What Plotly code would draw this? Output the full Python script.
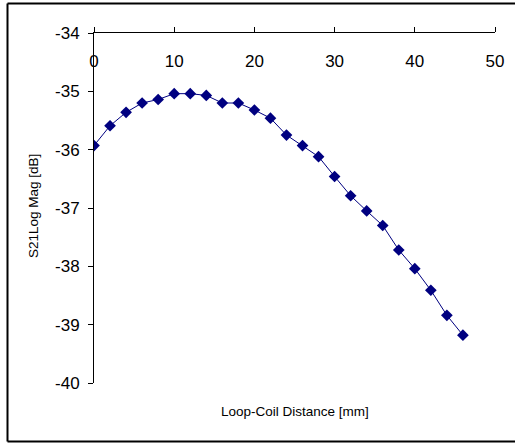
import plotly.graph_objects as go

distance_mm = [0, 2, 4, 6, 8, 10, 12, 14, 16, 18, 20, 22, 24, 26, 28, 30, 32, 34, 36, 38, 40, 42, 44, 46]
s21_db = [-35.93, -35.59, -35.36, -35.20, -35.14, -35.04, -35.04, -35.07, -35.20, -35.20, -35.32, -35.46,
          -35.75, -35.93, -36.12, -36.46, -36.79, -37.05, -37.30, -37.72, -38.04, -38.41, -38.84, -39.18]

x_ticks = [0, 10, 20, 30, 40, 50]
x_ticktext = ["0", "10", "20", "30", "40", "50"]
y_ticks = [-40, -39, -38, -37, -36, -35, -34]
y_ticktext = ["-40", "-39", "-38", "-37", "-36", "-35", "-34"]

x_title = "Loop-Coil Distance [mm]"
y_title = "S21Log Mag [dB]"

W, H = 515, 444
L, R, T, B = 94, 20, 33, 61
pw, ph = W - L - R, H - T - B

fig = go.Figure()
fig.add_trace(go.Scatter(
    x=distance_mm, y=s21_db, mode="lines+markers",
    line=dict(color="#000080", width=1),
    marker=dict(symbol="diamond", size=9, color="#000080"),
    showlegend=False,
))
# invisible trace to activate the label axis
fig.add_trace(go.Scatter(
    x=distance_mm, y=s21_db, xaxis="x2", mode="markers",
    marker=dict(opacity=0), hoverinfo="skip", showlegend=False,
))

font = "Liberation Sans, Arial, sans-serif"
bx0, by0, by1 = (7.5 - L) / pw, (383 - 441.5) / ph, (383 - 3.5) / ph
bx1 = (600 - L) / pw
border = dict(color="black", width=2)

fig.update_layout(
    width=W, height=H,
    margin=dict(l=L, r=R, t=T, b=B),
    paper_bgcolor="white", plot_bgcolor="white",
    font=dict(family=font, color="black"),
    xaxis=dict(
        range=[0, 50], tickvals=x_ticks, side="top",
        showgrid=False, zeroline=False, showline=True, linecolor="black", linewidth=1,
        ticks="outside", ticklen=5, tickcolor="black", showticklabels=False,
    ),
    xaxis2=dict(
        range=[0, 50], tickvals=x_ticks, ticktext=x_ticktext, overlaying="x",
        side="bottom", anchor="free", position=(383 - 49) / ph,
        showgrid=False, zeroline=False, showline=False, ticks="",
        tickfont=dict(size=17, family=font, color="black"),
    ),
    yaxis=dict(
        range=[-40, -34], tickvals=y_ticks, ticktext=y_ticktext,
        showgrid=False, zeroline=False, showline=True, linecolor="black", linewidth=1,
        ticks="outside", ticklen=5, tickcolor="black", ticklabelstandoff=5,
        tickfont=dict(size=17, family=font, color="black"),
    ),
    annotations=[
        dict(text=x_title, xref="paper", yref="paper", x=0.5, y=(383 - 412) / ph,
             showarrow=False, font=dict(size=13.5, family=font, color="black"),
             xanchor="center", yanchor="middle"),
        dict(text=y_title, xref="paper", yref="paper", x=(33 - L) / pw, y=(383 - 206) / ph,
             showarrow=False, textangle=-90, font=dict(size=13.5, family=font, color="black"),
             xanchor="center", yanchor="middle"),
    ],
    shapes=[
        dict(type="line", xref="paper", yref="paper", x0=bx0, x1=bx0, y0=by0, y1=by1, line=border),
        dict(type="line", xref="paper", yref="paper", x0=bx0, x1=bx1, y0=by1, y1=by1, line=border),
        dict(type="line", xref="paper", yref="paper", x0=bx0, x1=bx1, y0=by0, y1=by0, line=border),
    ],
)

fig.write_html("out.html")
